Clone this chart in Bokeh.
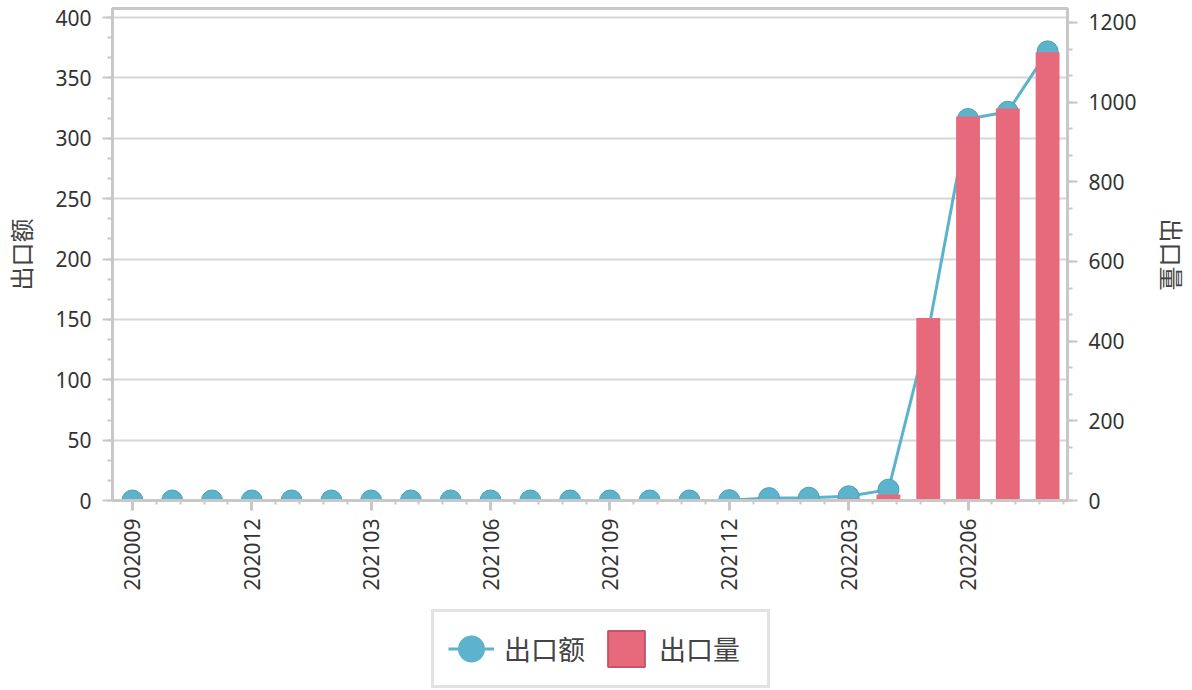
import math
from bokeh.plotting import figure
from bokeh.layouts import column
from bokeh.models import (Range1d, LinearAxis, SingleIntervalTicker, FixedTicker,
                          Legend, LegendItem, ColumnDataSource)
from bokeh.embed import file_html
from bokeh.resources import INLINE

# ---- data ----
months = ["202009", "202010", "202011", "202012", "202101", "202102", "202103", "202104",
          "202105", "202106", "202107", "202108", "202109", "202110", "202111", "202112",
          "202201", "202202", "202203", "202204", "202205", "202206", "202207", "202208"]
export_value = [0, 0, 0, 0, 0, 0, 0, 0,
                0, 0, 0, 0, 0, 0, 0, 0.3,
                2, 2.3, 3.5, 9, 140, 316, 322, 372]          # 出口额 (left axis)
export_qty = [0, 0, 0, 0, 0, 0, 0, 0,
              0, 0, 0, 0, 0, 0, 0, 0,
              3, 3, 5, 15, 458, 964, 984, 1125]              # 出口量 (right axis)
series_names = ["出口额", "出口量"]
label_every = 3

LINE = "#5db3cb"
LINE_DARK = "#4a9fb8"
BAR = "#e66a7c"
BAR_DARK = "#c45568"
AXIS = "#c8c8c8"
GRID = "#d6d6d6"
TICK_FONT = "Noto Sans"
CJK_FONT = "Noto Sans CJK SC"

idx = list(range(len(months)))
src = ColumnDataSource(dict(x=idx, value=export_value, qty=export_qty))

# ---------------- main chart ----------------
p = figure(width=1192, height=600,
           x_range=Range1d(-0.5, len(months) - 0.5), y_range=Range1d(0, 407.5),
           output_backend="svg", toolbar_location=None,
           min_border_left=112, min_border_right=120, min_border_top=8, min_border_bottom=100)
p.extra_y_ranges = {"qty": Range1d(0, 1235)}

p.outline_line_color = AXIS
p.outline_line_width = 3
p.background_fill_color = "white"
p.border_fill_color = "white"
p.xgrid.visible = False
p.ygrid.grid_line_color = GRID
p.ygrid.grid_line_width = 2

# x axis
major = [i for i in idx if i % label_every == 0]
minor = [m + 0.6 * j for m in major for j in range(1, 5) if m + 0.6 * j < len(months) - 0.5]
xa = p.xaxis[0]
xa.ticker = FixedTicker(ticks=major, minor_ticks=minor)
xa.major_label_overrides = {i: months[i] for i in major}
xa.major_label_orientation = math.pi / 2
xa.major_label_text_font = TICK_FONT
xa.major_label_text_font_size = "21px"
xa.major_label_text_color = "#333333"
xa.major_label_standoff = 8
xa.axis_line_color = AXIS
xa.axis_line_width = 3
xa.major_tick_line_color = AXIS
xa.major_tick_line_width = 3
xa.minor_tick_line_color = AXIS
xa.minor_tick_line_width = 2
xa.major_tick_out = 10
xa.major_tick_in = 0
xa.minor_tick_out = 4
xa.minor_tick_in = 0

# left axis
ya = p.yaxis[0]
ya.ticker = SingleIntervalTicker(interval=50, num_minor_ticks=3)
ya.axis_label = series_names[0]
ya.axis_label_standoff = 14

# right axis
yr = LinearAxis(y_range_name="qty", ticker=SingleIntervalTicker(interval=200, num_minor_ticks=3),
                axis_label=series_names[1])
yr.axis_label_standoff = 15
p.add_layout(yr, "right")

for ax in (ya, yr):
    ax.major_label_text_font = TICK_FONT
    ax.major_label_text_font_size = "21px"
    ax.major_label_text_color = "#333333"
    ax.major_label_standoff = 11
    ax.axis_line_color = AXIS
    ax.axis_line_width = 3
    ax.major_tick_line_color = AXIS
    ax.major_tick_line_width = 2
    ax.minor_tick_line_color = AXIS
    ax.minor_tick_line_width = 2
    ax.major_tick_out = 10
    ax.major_tick_in = 0
    ax.minor_tick_out = 5
    ax.minor_tick_in = 0
    ax.axis_label_text_font = CJK_FONT
    ax.axis_label_text_font_size = "24px"
    ax.axis_label_text_font_style = "normal"
    ax.axis_label_text_color = "#444444"

# series
p.line("x", "value", source=src, line_color=LINE, line_width=3)
p.scatter("x", "value", source=src, size=21, fill_color=LINE, line_color=LINE_DARK, line_width=1)
p.vbar(x="x", top="qty", width=0.6, source=src, y_range_name="qty",
       fill_color=BAR, line_color=None)

# ---------------- legend strip ----------------
nan = float("nan")
swatch = ColumnDataSource(dict(x=[nan], value=[nan], qty=[nan]))  # legend-only, never drawn

lg = figure(width=1192, height=90, x_range=Range1d(0, 1), y_range=Range1d(0, 1),
            x_axis_type=None, y_axis_type=None,
            output_backend="svg", toolbar_location=None, min_border=0)
lg.grid.visible = False
lg.outline_line_color = None
lg.background_fill_color = "white"
lg.border_fill_color = "white"

lg_line = lg.line("x", "value", source=swatch, line_color=LINE, line_width=3)
lg_dot = lg.scatter("x", "value", source=swatch, size=21, fill_color=LINE, line_color=LINE, line_width=9)
lg_bar = lg.vbar(x="x", top="qty", width=0.6, source=swatch,
                 fill_color=BAR, line_color=BAR_DARK, line_width=2)

legend = Legend(items=[LegendItem(label=series_names[0], renderers=[lg_line, lg_dot]),
                       LegendItem(label=series_names[1], renderers=[lg_bar])],
                orientation="horizontal", location=(319, 2))
legend.label_text_font = CJK_FONT
legend.label_text_font_size = "27px"
legend.label_text_color = "#444444"
legend.border_line_color = AXIS
legend.border_line_width = 3
legend.background_fill_color = "white"
legend.padding = 14
legend.spacing = 5
legend.label_standoff = 10
legend.label_width = 94
legend.glyph_width = 46
legend.glyph_height = 45
legend.margin = 0
lg.add_layout(legend, "center")

layout = column(p, lg, spacing=0)
open("out.html", "w").write(file_html(layout, INLINE))
